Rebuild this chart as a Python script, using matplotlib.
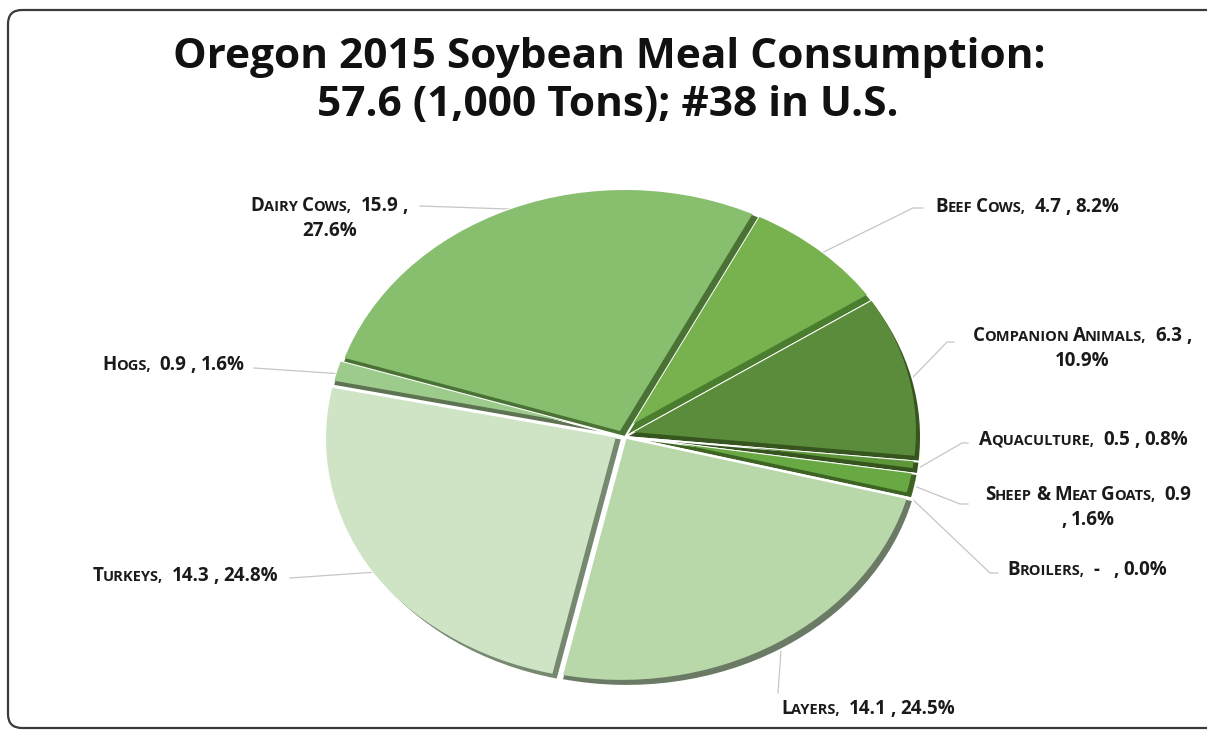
import math
import matplotlib
matplotlib.use("Agg")
import matplotlib.pyplot as plt
from matplotlib.patches import Wedge, FancyBboxPatch
from matplotlib.transforms import IdentityTransform

# Oregon 2015 soybean meal use by animal sector (1,000 tons and share of total)
categories = ["Beef Cows", "Companion Animals", "Aquaculture", "Sheep & Meat Goats",
              "Broilers", "Layers", "Turkeys", "Hogs", "Dairy Cows"]
tons = [4.7, 6.3, 0.5, 0.9, 0.0, 14.1, 14.3, 0.9, 15.9]
shares = [8.2, 10.9, 0.8, 1.6, 0.0, 24.5, 24.8, 1.6, 27.6]

face_colors = ["#77b24f", "#5b8c3b", "#5c9639", "#69a944", "#6aa946",
               "#b9d8aa", "#cee4c4", "#9ccb8b", "#88bf6f"]
side_colors = ["#4b7d2f", "#37561f", "#35541e", "#3d6424", "#3d6424",
               "#6a7a64", "#768870", "#5d7352", "#4a7234"]
explode = [0, 0, 0, 0, 0, 0.009, 0.012, 0.008, 0]

# label layout: centre x / first line centre y (pixels), wrap style, leader elbow
label_pos = [(1027, 205), (1082, 334), (1083, 438), (1088, 493), (1087, 568),
             (868, 707), (185, 574), (173, 363), (329, 204)]
label_wrap = ["one", "pct", "one", "comma", "one", "one", "one", "one", "pct"]
leader_end = [[(913, 208), (923, 208)], [(947, 342), (954, 342)],
              [(962, 443), (968, 443)], [(960, 504), (968, 504)],
              [(990, 573), (998, 573)], [(778, 693)], [(290, 578)],
              [(254, 368)], [(420, 206)]]

W, H = 1207, 732
CX, CY = 625, 437      # pie centre in pixels (from top-left)
RX, RY = 296, 247      # pie radii in pixels
SHIFT = (5, 6)         # visible thickness of the slice sides, pixels

FONT = ["Open Sans", "DejaVu Sans"]
LABEL_PT = 13.5

fig = plt.figure(figsize=(W / 100, H / 100), dpi=100)
ax = fig.add_axes([0, 0, 1, 1])


def to_data(px, py):
    return (px - CX) / RX, (CY - py) / RY


wedges, _ = ax.pie(shares, explode=explode, colors=side_colors, startangle=63,
                   counterclock=False, radius=1.0,
                   wedgeprops=dict(edgecolor="white", linewidth=1.4))
ax.set_aspect("auto")
ax.set_xlim(-CX / RX, (W - CX) / RX)
ax.set_ylim(-(H - CY) / RY, CY / RY)
ax.axis("off")

# top face of every slice, nudged up-left so the darker side shows through
for w, face in zip(wedges, face_colors):
    if w.theta2 - w.theta1 <= 0:
        continue
    cx, cy = w.center
    top = Wedge((cx - SHIFT[0] / RX, cy + SHIFT[1] / RY), w.r, w.theta1, w.theta2,
                facecolor=face, edgecolor="none", zorder=w.get_zorder() + 0.5)
    ax.add_patch(top)
    top.set_clip_path(w)

renderer = fig.canvas.get_renderer()


def text_width(s, size):
    t = fig.text(0, 0, s, fontsize=size, fontweight="bold", family=FONT)
    wd = t.get_window_extent(renderer).width
    t.remove()
    return wd


def small_caps(line, cx, cy, size):
    # capitals/digits at full size, lower case as smaller capitals;
    # punctuation sticks to whatever run it follows
    runs = []
    for ch in line:
        if ch == " ":
            kind = "sp"
        elif ch.islower():
            kind = "lo"
        elif not ch.isalnum() and runs and runs[-1][0] != "sp":
            kind = runs[-1][0]
        else:
            kind = "up"
        if runs and runs[-1][0] == kind:
            runs[-1][1] += ch
        else:
            runs.append([kind, ch])
    space = text_width("a a", size) - text_width("aa", size)
    pieces = []
    for kind, s in runs:
        if kind == "sp":
            pieces.append((None, size, space * len(s)))
        else:
            sz = size * 0.78 if kind == "lo" else size
            pieces.append((s.upper(), sz, text_width(s.upper(), sz) - 0.05 * size))
    total = sum(p[2] for p in pieces)
    x = cx - total / 2
    base = cy + 0.36 * size * 100 / 72
    for s, sz, wd in pieces:
        if s is not None:
            fig.text(x / W, 1 - base / H, s, fontsize=sz, fontweight="bold",
                     family=FONT, color="#1a1a1a", va="baseline", ha="left")
        x += wd


for i, name in enumerate(categories):
    val = "-  " if tons[i] == 0 else f"{tons[i]:.1f}"
    pct = f"{shares[i]:.1f}%"
    if label_wrap[i] == "pct":
        lines = [f"{name},  {val} ,", pct]
    elif label_wrap[i] == "comma":
        lines = [f"{name},  {val}", f", {pct}"]
    else:
        lines = [f"{name},  {val} , {pct}"]
    lx, ly = label_pos[i]
    for k, line in enumerate(lines):
        small_caps(line, lx, ly + 25 * k, LABEL_PT)

    # leader from the slice rim at its mid angle out to the label
    w = wedges[i]
    a = math.radians((w.theta1 + w.theta2) / 2)
    rim = (w.center[0] + w.r * math.cos(a), w.center[1] + w.r * math.sin(a))
    pts = [rim] + [to_data(px, py) for px, py in leader_end[i]]
    ax.plot([p[0] for p in pts], [p[1] for p in pts], color="#c6c6c6", lw=0.9,
            zorder=0.5)

fig.text(609 / W, 1 - 58 / H, "Oregon 2015 Soybean Meal Consumption:",
         fontsize=30.5, fontweight="bold", family=FONT, color="#111111",
         ha="center", va="center")
fig.text(608 / W, 1 - 105 / H, "57.6 (1,000 Tons); #38 in U.S.",
         fontsize=30.5, fontweight="bold", family=FONT, color="#111111",
         ha="center", va="center")

frame = FancyBboxPatch((8, 4), 1225, 718, boxstyle="round,pad=0,rounding_size=14",
                       transform=IdentityTransform(), facecolor="none",
                       edgecolor="#3a3a3a", linewidth=1.6)
fig.patches.append(frame)

fig.savefig("out.png", dpi=100)
